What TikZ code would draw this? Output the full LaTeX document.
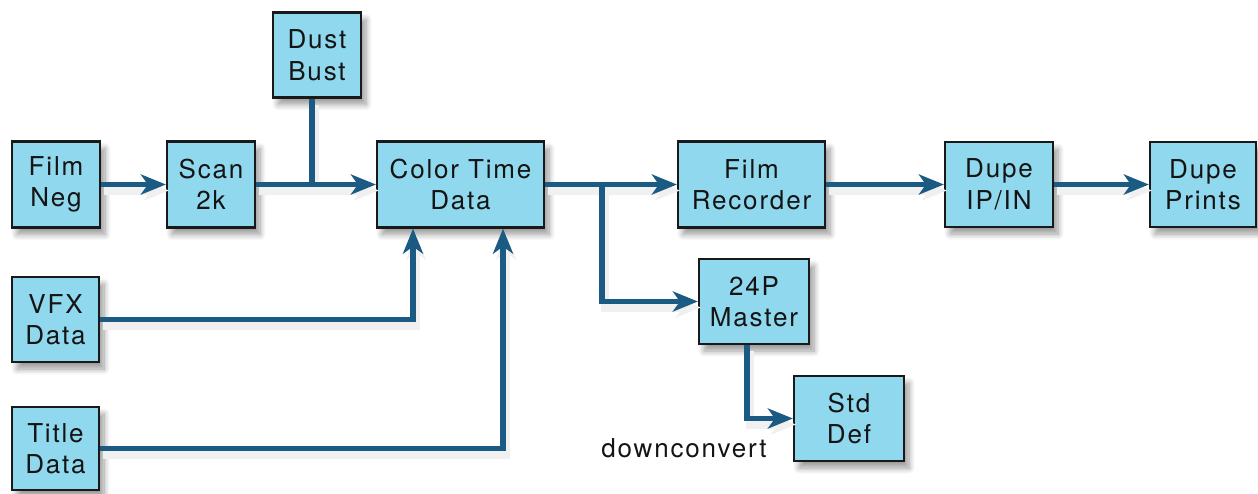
\documentclass[tikz,border=0pt]{standalone}
\usepackage{fontspec}
\setmainfont{TeX Gyre Heros}[LetterSpace=7]
\usetikzlibrary{arrows.meta,shadows.blur,calc}
\definecolor{boxfill}{HTML}{8FD8EE}
\definecolor{linkblue}{HTML}{1B5A82}
\definecolor{txt}{HTML}{141414}
\newcommand\allconnectors{%
  \draw[conn] (dustfoot) -- (dustfoot |- scan.east);
  \draw[arr] (neg) -- (scan);
  \draw[arr] (scan) -- (ctd);
  \draw[arr] (vfx.east) -| (vfxin);
  \draw[arr] (title.east) -| (titlein);
  \draw[arr] (branch) |- (m24.west);
  \draw[arr] (ctd) -- (rec);
  \draw[arr] (m24foot) |- (std.west);
  \draw[arr] (rec) -- (ipin);
  \draw[arr] (ipin) -- (prints);
}
\begin{document}
\begin{tikzpicture}[x=1pt,y=-1pt,
  stagebox/.style={draw=black!90, line width=2.2pt, fill=boxfill, inner sep=0pt,
    align=center, font=\fontsize{26}{31.5}\selectfont, text=txt,
    blur shadow={shadow xshift=5pt, shadow yshift=-7pt, shadow blur steps=10,
      shadow blur radius=6pt, shadow opacity=40}},
  tipshape/.style={-{Stealth[length=25pt,width=20pt,inset=7pt]}},
]
\useasboundingbox (0,0) rectangle (1258,493);
% boxes
\node[stagebox, minimum width=88pt, minimum height=86pt] (neg) at (56,184.5) {Film\\Neg};
\node[stagebox, minimum width=88pt, minimum height=86pt] (scan) at (211,184.5) {Scan\\2k};
\node[stagebox, minimum width=88pt, minimum height=85pt] (dust) at (317,55) {Dust\\Bust};
\node[stagebox, minimum width=167pt, minimum height=86pt] (ctd) at (460.5,184.5) {Color Time\\Data};
\node[stagebox, minimum width=147pt, minimum height=86pt] (rec) at (751.5,184.5) {Film\\Recorder};
\node[stagebox, minimum width=108pt, minimum height=85pt] (ipin) at (999,184.5) {Dupe\\IP/IN};
\node[stagebox, minimum width=106pt, minimum height=85pt] (prints) at (1203,184.5) {Dupe\\Prints};
\node[stagebox, minimum width=110pt, minimum height=85pt] (m24) at (754,301.5) {24P\\Master};
\node[stagebox, minimum width=110pt, minimum height=85pt] (std) at (849,418.5) {Std\\Def};
\node[stagebox, minimum width=87pt, minimum height=85pt] (vfx) at (55.5,319.5) {VFX\\Data};
\node[stagebox, minimum width=87pt, minimum height=83pt] (title) at (55.5,448.5) {Title\\Data};
\node[font=\fontsize{26}{30}\selectfont, text=txt, anchor=base] (dc) at (684,457) {downconvert};
% connector points
\coordinate (dustfoot) at ([xshift=-5pt]dust.south);
\coordinate (vfxin) at ([xshift=-47.5pt]ctd.south);
\coordinate (titlein) at ([xshift=42.5pt]ctd.south);
\coordinate (branch) at (602,184.5);
\coordinate (m24foot) at ([xshift=-7pt]m24.south);
% shadows of connectors
\begin{scope}[transform canvas={shift={(3pt,-6pt)}},
  conn/.style={draw=black!6, line width=8pt},
  arr/.style={conn, tipshape}]
  \allconnectors
\end{scope}
% connectors
\begin{scope}[conn/.style={draw=linkblue, line width=5.5pt},
  arr/.style={conn, tipshape}]
  \allconnectors
\end{scope}
\end{tikzpicture}
\end{document}
